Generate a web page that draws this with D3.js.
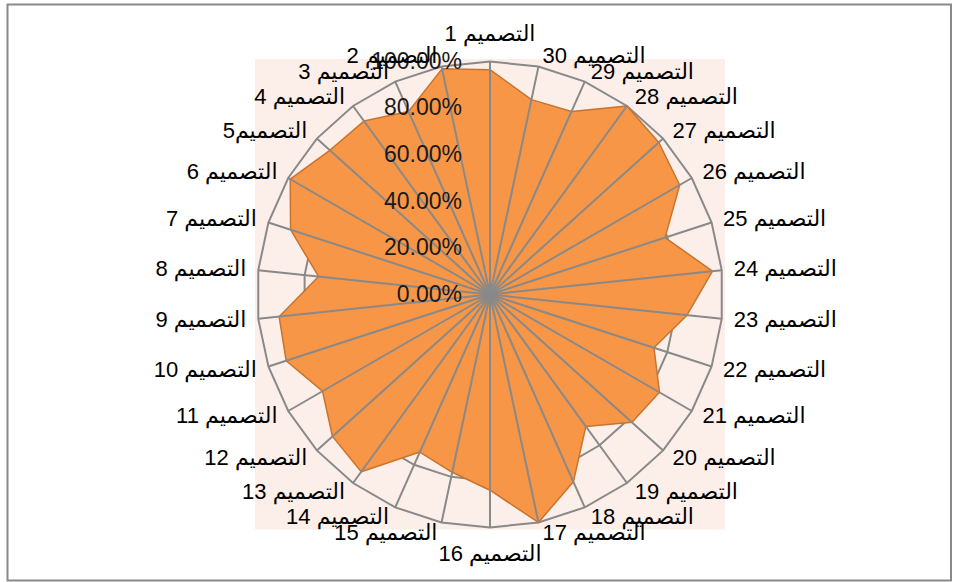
<!DOCTYPE html>
<html>
<head>
<meta charset="utf-8">
<script src="https://cdn.jsdelivr.net/npm/d3@7"></script>
<style>
 body { margin: 0; background: #fff; }
 svg { display: block; font-family: "Liberation Sans", Arial, "DejaVu Sans", sans-serif; }
</style>
</head>
<body>
<svg id="chart" width="958" height="582"></svg>
<script>
 // categories go round counter-clockwise, starting at the top
 var categories = ["التصميم 1", "التصميم 2", "التصميم 3", "التصميم 4", "التصميم5",
                   "التصميم 6", "التصميم 7", "التصميم 8", "التصميم 9", "التصميم 10",
                   "التصميم 11", "التصميم 12", "التصميم 13", "التصميم 14", "التصميم 15",
                   "التصميم 16", "التصميم 17", "التصميم 18", "التصميم 19", "التصميم 20",
                   "التصميم 21", "التصميم 22", "التصميم 23", "التصميم 24", "التصميم 25",
                   "التصميم 26", "التصميم 27", "التصميم 28", "التصميم 29", "التصميم 30"];
 var values = [0.965, 0.99, 0.86, 0.92, 0.925, 0.99, 0.90, 0.74, 0.91, 0.92,
               0.83, 0.91, 0.94, 0.74, 0.78, 0.84, 1.00, 0.88, 0.70, 0.82,
               0.84, 0.74, 0.85, 0.96, 0.79, 0.94, 0.975, 1.00, 0.86, 0.855];
 var ticks = [0, 0.2, 0.4, 0.6, 0.8, 1.0];

 var cx = 490, cy = 294.5, R = 233;
 var svg = d3.select("#chart");

 // outer frame
 svg.append("rect")
    .attr("x", 7.5).attr("y", 4.5).attr("width", 943.5).attr("height", 576)
    .attr("fill", "#fff").attr("stroke", "#898989").attr("stroke-width", 2);

 var r = d3.scaleLinear().domain([0, 1]).range([0, R]);
 var ang = d3.scaleLinear().domain([0, categories.length]).range([0, -2 * Math.PI]);

 // plot area
 svg.append("rect")
    .attr("x", cx - r(1) - 2).attr("y", cy - r(1) - 2.5)
    .attr("width", 2 * r(1) + 4).attr("height", 2 * r(1) + 4.5)
    .attr("fill", "#fcefea");

 var g = svg.append("g").attr("transform", "translate(" + cx + "," + cy + ")");

 var ring = d3.lineRadial().curve(d3.curveLinearClosed);

 // polygon gridlines
 g.selectAll("path.grid").data(ticks.slice(1)).join("path")
    .attr("class", "grid")
    .attr("d", function(t){ return ring(categories.map(function(c, i){ return [ang(i), r(t)]; })); })
    .attr("fill", "none").attr("stroke", "#898989").attr("stroke-width", 2);

 // series
 g.append("path")
    .attr("d", ring(values.map(function(v, i){ return [ang(i), r(v)]; })))
    .attr("fill", "#f79646").attr("stroke", "#c9732d").attr("stroke-width", 1.5)
    .attr("stroke-linejoin", "round");

 // spokes
 g.selectAll("line.spoke").data(categories).join("line")
    .attr("class", "spoke")
    .attr("x1", 0).attr("y1", 0)
    .attr("x2", function(d, i){ return r(1) * Math.sin(ang(i)); })
    .attr("y2", function(d, i){ return -r(1) * Math.cos(ang(i)); })
    .attr("stroke", "#898989").attr("stroke-width", 2);

 var fs = 22, tfs = 23;

 // value axis labels
 var fmt = d3.format(".2%");
 g.selectAll("text.tick").data(ticks).join("text")
    .attr("class", "tick")
    .attr("x", -28)
    .attr("y", function(t){ return -r(t) + 0.36 * tfs - 1; })
    .attr("text-anchor", "end")
    .attr("font-size", tfs).attr("fill", "#1a1a1a")
    .text(fmt);

 // category labels
 g.selectAll("text.cat").data(categories).join("text")
    .attr("class", "cat")
    .attr("font-size", fs).attr("fill", "#000")
    .each(function(d, i){
       var a = ang(i), s = Math.sin(a), c = Math.cos(a);
       var tx = r(1) * s, ty = -r(1) * c;
       var el = d3.select(this), x, y, anchor;
       if (Math.abs(s) < 1e-6) {
         anchor = "middle"; x = tx; y = ty + (c > 0 ? -28 : 26);
       } else {
         anchor = s < 0 ? "end" : "start";
         x = tx + (s < 0 ? -1 : 1) * (2 + 10 * Math.abs(s));
         y = ty - c * 11 - 1;
       }
       el.attr("x", x).attr("y", y + 0.36 * fs).attr("text-anchor", anchor).text(d);
    });
</script>
</body>
</html>
